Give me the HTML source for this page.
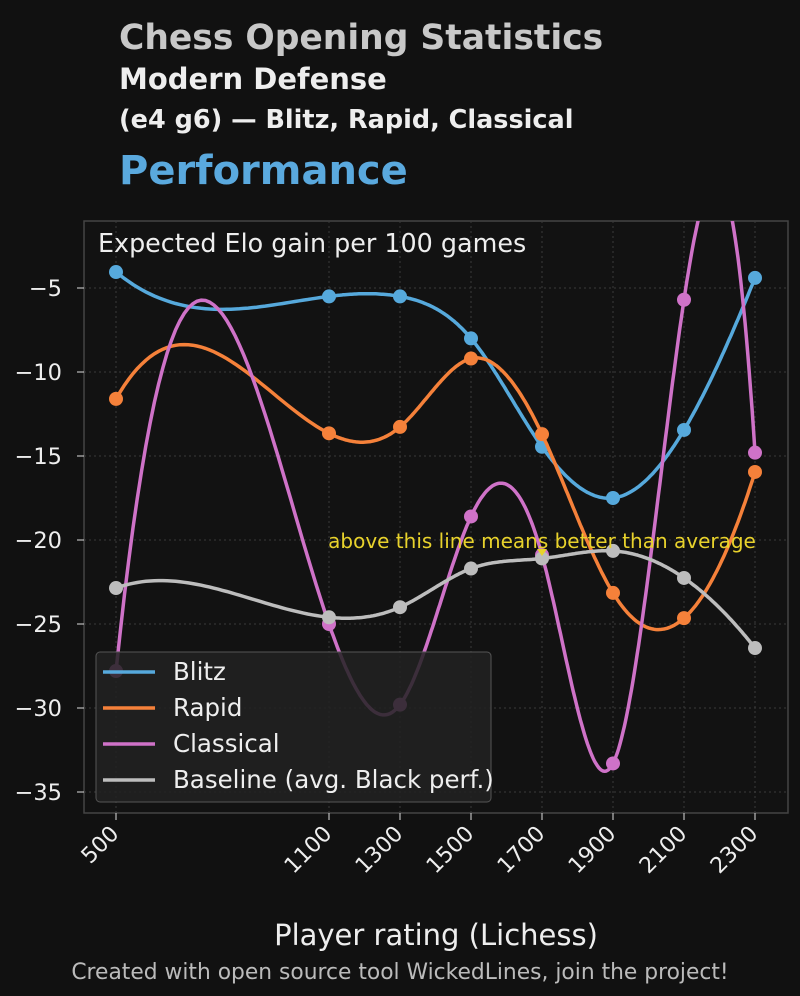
<!DOCTYPE html>
<html><head><meta charset="utf-8"><style>
body{margin:0;background:#111;width:800px;height:996px;overflow:hidden;font-family:"DejaVu Sans","Liberation Sans",sans-serif}
.t{position:absolute;left:119px;font-weight:bold;white-space:nowrap}
</style></head><body>
<div class="t" style="top:18px;font-size:34.5px;color:#c8c8c8">Chess Opening Statistics</div>
<div class="t" style="top:62px;font-size:29px;color:#eee">Modern Defense</div>
<div class="t" style="top:105px;font-size:25.5px;color:#eee">(e4 g6) — Blitz, Rapid, Classical</div>
<div class="t" style="top:148px;font-size:40px;color:#5aa9de">Performance</div>
<svg id="c" width="800" height="996" style="position:absolute;left:0;top:0"></svg>
<script>
const ratings=[500,1100,1300,1500,1700,1900,2100,2300];
const blitz=[-4.05,-5.5,-5.5,-8.0,-14.45,-17.5,-13.45,-4.4];
const rapid=[-11.6,-13.65,-13.27,-9.2,-13.7,-23.15,-24.65,-15.95];
const classical=[-27.8,-25.0,-29.8,-18.6,-20.9,-33.3,-5.7,-14.8];
const baseline=[-22.86,-24.6,-24.0,-21.7,-21.1,-20.65,-22.26,-26.43];
const yTicks=[-5,-10,-15,-20,-25,-30,-35];
const yTickLabels=["−5","−10","−15","−20","−25","−30","−35"];
const series=[["Blitz",blitz,"#56a9dc"],["Rapid",rapid,"#f5813a"],["Classical",classical,"#cf72c8"],["Baseline (avg. Black perf.)",baseline,"#bdbdbd"]];
const L=84,R=788,T=221,B=813;
const X=v=>116+(v-500)*0.355, Y=v=>288+(-5-v)*16.8;
const svg=document.getElementById('c'),NS='http://www.w3.org/2000/svg';
function mk(t,a,p){const e=document.createElementNS(NS,t);for(const k in a)e.setAttribute(k,a[k]);(p||svg).appendChild(e);return e;}
const bg=mk('rect',{x:L,y:T,width:R-L,height:B-T,fill:'#121212',stroke:'#444','stroke-width':1.5});


const defs=mk('defs',{});const cp=mk('clipPath',{id:'cl'},defs);mk('rect',{x:L,y:T,width:R-L,height:B-T},cp);
ratings.forEach(r=>{const g=mk('line',{x1:X(r),x2:X(r),y1:T,y2:B,stroke:'#3a3a3a','stroke-dasharray':'2,3'});


mk('line',{x1:X(r),x2:X(r),y1:B,y2:B+7,stroke:'#ddd'});
const t=mk('text',{x:X(r)+4,y:B+22,fill:'#eee','font-size':22,'text-anchor':'end',transform:`rotate(-45 ${X(r)+4} ${B+22})`});t.textContent=r;

});
yTicks.forEach((v,i)=>{const g=mk('line',{x1:L,x2:R,y1:Y(v),y2:Y(v),stroke:'#3a3a3a','stroke-dasharray':'2,3'});


mk('line',{x1:L-7,x2:L,y1:Y(v),y2:Y(v),stroke:'#ddd'});
const t=mk('text',{x:L-22,y:Y(v)+8,fill:'#eee','font-size':22.5,'text-anchor':'end'});t.textContent=yTickLabels[i];

});
function solve(A,b){const n=b.length;for(let i=0;i<n;i++){let p=i;for(let k=i+1;k<n;k++)if(Math.abs(A[k][i])>Math.abs(A[p][i]))p=k;
[A[i],A[p]]=[A[p],A[i]];[b[i],b[p]]=[b[p],b[i]];for(let k=i+1;k<n;k++){const f=A[k][i]/A[i][i];for(let j=i;j<n;j++)A[k][j]-=f*A[i][j];b[k]-=f*b[i];}}
const x=new Array(n).fill(0);for(let i=n-1;i>=0;i--){let s=b[i];for(let j=i+1;j<n;j++)s-=A[i][j]*x[j];x[i]=s/A[i][i];}return x;}
function spline(xs,ys){const n=xs.length,h=[];for(let i=0;i<n-1;i++)h[i]=xs[i+1]-xs[i];
const A=[...Array(n)].map(()=>new Array(n).fill(0)),b=new Array(n).fill(0);
A[0][0]=h[1];A[0][1]=-(h[0]+h[1]);A[0][2]=h[0];
for(let i=1;i<n-1;i++){A[i][i-1]=h[i-1];A[i][i]=2*(h[i-1]+h[i]);A[i][i+1]=h[i];b[i]=6*((ys[i+1]-ys[i])/h[i]-(ys[i]-ys[i-1])/h[i-1]);}
A[n-1][n-3]=h[n-2];A[n-1][n-2]=-(h[n-3]+h[n-2]);A[n-1][n-1]=h[n-3];
const M=solve(A,b);let p='';
for(let i=0;i<n-1;i++)for(let s=0;s<=50;s++){const x=xs[i]+h[i]*s/50,a=xs[i+1]-x,c=x-xs[i],H=h[i];
const v=M[i]*a*a*a/(6*H)+M[i+1]*c*c*c/(6*H)+(ys[i]/H-M[i]*H/6)*a+(ys[i+1]/H-M[i+1]*H/6)*c;
p+=(p?'L':'M')+X(x).toFixed(1)+','+Y(v).toFixed(1);}return p;}
const g=mk('g',{'clip-path':'url(#cl)'});
series.forEach(([n,vals,col])=>{const p=mk('path',{d:spline(ratings,vals),fill:'none',stroke:col,'stroke-width':3.5},g);


vals.forEach((v,i)=>{const m=mk('circle',{cx:X(ratings[i]),cy:Y(v),r:7,fill:col},g);

});});
const an=mk('text',{x:542,y:548,fill:'#e8d22c','font-size':20,'text-anchor':'middle'});an.textContent='above this line means better than average';


const ar=mk('path',{d:`M537,549 L547,549 L542,556 Z`,fill:'#e8d22c'});


const yl=mk('text',{x:98,y:252,fill:'#eee','font-size':25.4});yl.textContent='Expected Elo gain per 100 games';


const lg=mk('g',{});

mk('rect',{x:96,y:652,width:395,height:150,rx:4,fill:'#222','fill-opacity':0.85,stroke:'#555'},lg);
series.forEach(([n,v,col],i)=>{const yy=672+i*36;mk('line',{x1:103,x2:155,y1:yy,y2:yy,stroke:col,'stroke-width':3.5},lg);
const t=mk('text',{x:173,y:yy+8,fill:'#eee','font-size':24.5},lg);t.textContent=n;

});
const xl=mk('text',{x:436,y:945,fill:'#eee','font-size':29,'text-anchor':'middle'});xl.textContent='Player rating (Lichess)';


const ft=mk('text',{x:400,y:979,fill:'#bbb','font-size':21.8,'text-anchor':'middle'});ft.textContent='Created with open source tool WickedLines, join the project!';


</script>
</body></html>
